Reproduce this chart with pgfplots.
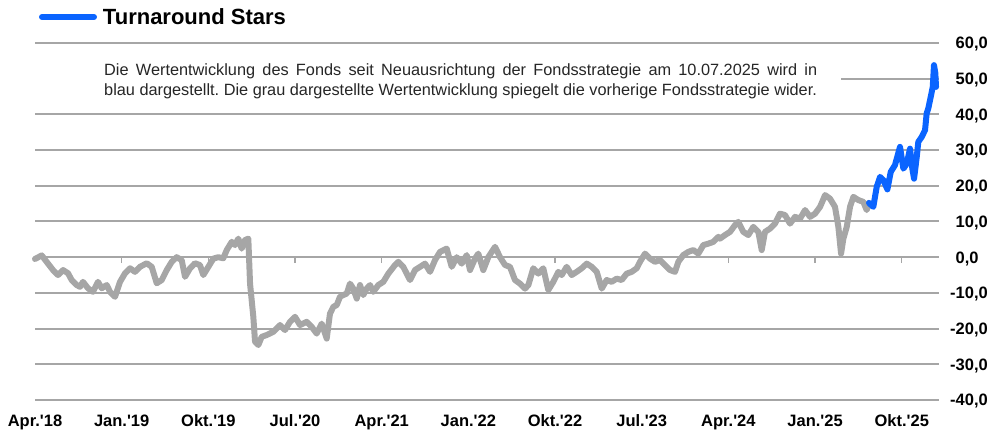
\documentclass[border=0pt]{standalone}
\usepackage{fontspec}
\setmainfont{Liberation Sans}
\usepackage{pgfplots}
\usepackage{pgfplotstable}
\pgfplotsset{compat=1.18}
\definecolor{lgrey}{RGB}{166,166,166}
\definecolor{fblue}{RGB}{10,100,255}
\definecolor{txt}{RGB}{38,38,38}
\frenchspacing

% months since Apr. 2018, performance in %
\pgfplotstableread{
m v
0.00 -0.5
0.70 0.5
1.21 -1.3
1.87 -3.6
2.39 -5.0
2.91 -3.6
3.43 -4.5
3.81 -6.4
4.33 -7.8
4.67 -8.3
4.98 -6.9
5.50 -8.7
6.02 -9.7
6.54 -6.9
6.93 -8.7
7.45 -7.8
7.79 -9.7
8.31 -11.1
8.83 -6.9
9.35 -4.5
9.87 -3.1
10.38 -4.1
10.90 -2.7
11.60 -1.7
12.12 -2.7
12.64 -7.3
13.16 -6.4
13.68 -3.6
14.20 -1.3
14.71 0.0
15.23 -0.8
15.58 -5.5
16.10 -3.1
16.61 -1.7
17.13 -2.2
17.48 -5.0
18.00 -2.7
18.52 -0.4
19.03 0.0
19.55 -0.3
19.91 2.0
20.43 4.3
20.77 3.4
21.11 5.2
21.46 2.4
21.81 4.8
22.15 5.2
22.33 -7.4
22.67 -16.7
22.85 -23.7
23.19 -24.6
23.54 -22.3
24.06 -21.8
24.75 -20.9
25.44 -19.0
25.96 -20.4
26.48 -18.1
27.00 -16.7
27.52 -19.0
28.21 -18.1
28.73 -19.5
29.25 -21.4
29.77 -18.6
30.29 -22.8
30.63 -15.8
30.98 -13.9
31.33 -13.4
31.67 -11.1
32.01 -10.6
32.37 -10.2
32.71 -7.4
33.05 -8.8
33.41 -11.6
33.75 -7.8
34.09 -10.6
34.44 -8.8
34.79 -7.8
35.13 -9.7
35.65 -7.8
36.17 -6.9
36.69 -4.6
37.38 -2.2
37.73 -1.3
38.24 -2.7
38.94 -6.4
39.46 -3.6
39.98 -2.7
40.50 -1.8
41.02 -4.1
41.54 -0.8
42.06 1.5
42.75 2.4
43.27 -2.7
43.79 0.0
44.31 -1.8
44.83 0.6
45.17 -3.6
45.69 -0.4
46.03 1.0
46.55 -3.6
47.07 0.0
47.77 2.9
48.29 0.0
48.81 -2.2
49.32 -2.7
49.84 -6.4
50.36 -7.4
50.88 -8.8
51.23 -7.8
51.74 -3.1
52.26 -4.6
52.78 -3.1
53.30 -9.2
53.82 -6.9
54.34 -4.1
54.69 -5.0
55.21 -2.7
55.73 -5.0
56.25 -4.1
56.77 -3.1
57.29 -1.8
57.81 -2.7
58.33 -4.1
58.85 -8.8
59.36 -6.4
59.88 -6.9
60.40 -6.0
60.92 -6.4
61.44 -4.6
61.96 -4.1
62.48 -3.1
62.82 -1.3
63.34 1.0
63.86 -0.4
64.38 -1.3
64.90 -0.8
65.42 -2.2
65.94 -3.6
66.46 -4.1
66.80 -1.3
67.32 0.6
67.84 1.5
68.36 2.0
68.88 1.0
69.40 3.4
69.92 3.8
70.44 4.3
70.96 5.7
71.13 5.2
71.65 6.2
72.17 7.1
72.69 9.0
73.03 9.9
73.55 7.1
74.07 6.2
74.59 8.5
75.11 7.1
75.46 2.0
75.80 7.1
76.32 8.0
76.84 9.4
77.36 12.2
77.88 11.8
78.40 9.4
78.92 11.3
79.44 10.8
79.96 13.2
80.48 11.3
81.00 12.2
81.52 14.1
82.04 17.4
82.55 16.4
83.07 14.1
83.42 8.5
83.70 1.0
83.94 5.2
84.29 8.5
84.63 14.1
84.98 16.9
85.50 16.0
86.01 15.5
86.36 13.2
86.60 15.2
}\greydata

\pgfplotstableread{
m v
86.60 15.2
87.05 14.1
87.40 19.7
87.75 22.5
88.09 21.6
88.51 19.0
88.86 23.9
89.30 25.8
89.82 30.9
90.17 24.8
90.52 26.2
90.86 30.4
91.10 24.8
91.28 22.0
91.56 28.1
91.72 32.3
92.08 33.7
92.42 35.6
92.59 40.3
92.76 41.7
93.01 44.9
93.22 47.7
93.35 53.8
93.49 51.5
93.56 47.7
}\bluedata

\begin{document}
\begin{tikzpicture}
% tick marks hanging below the zero line
\begin{axis}[
  scale only axis, width=904bp, height=357bp,
  xmin=0, xmax=93.87, ymin=-40, ymax=60,
  axis x line=middle, hide y axis,
  axis line style={lgrey, line width=2bp, -},
  xtick={0,9,...,90}, xticklabels={},
  tick align=outside, major tick length=6bp,
  tick style={lgrey, line width=1.5bp},
]
\end{axis}
\begin{axis}[
  scale only axis, width=904bp, height=357bp,
  xmin=0, xmax=93.87, ymin=-40, ymax=60,
  clip=false,
  axis line style={draw=none},
  major tick length=0pt,
  ymajorgrids,
  grid style={lgrey, line width=2bp},
  ytick={-40,-30,...,60},
  yticklabels={{\llap{-}40,0},{\llap{-}30,0},{\llap{-}20,0},{\llap{-}10,0},{0,0},{10,0},{20,0},{30,0},{40,0},{50,0},{60,0}},
  yticklabel pos=right,
  xtick={0,9,...,90},
  xticklabels={Apr.\textquotesingle18,Jan.\textquotesingle19,Okt.\textquotesingle19,Jul.\textquotesingle20,Apr.\textquotesingle21,Jan.\textquotesingle22,Okt.\textquotesingle22,Jul.\textquotesingle23,Apr.\textquotesingle24,Jan.\textquotesingle25,Okt.\textquotesingle25},
  tick label style={font=\fontsize{16.5bp}{19bp}\selectfont\bfseries, text=black, inner sep=0pt},
  yticklabel style={anchor=base west, xshift=16.5bp, yshift=-5.9bp},
  xticklabel style={anchor=base, yshift=-27bp},
  legend style={at={(rel axis cs:0,1)}, anchor=west, xshift=4bp, yshift=26bp,
    draw=none, fill=none, inner sep=0pt, outer sep=0pt,
    nodes={inner sep=0pt},
    font=\fontsize{22bp}{26bp}\selectfont\bfseries,
    /tikz/every odd column/.append style={column sep=6bp}},
  legend image code/.code={\draw[#1, line width=6bp, line cap=round] (3bp,0bp) -- (55bp,0bp);},
]
\addplot[lgrey, line width=6bp, line join=round, line cap=round, forget plot] table[x=m, y=v] {\greydata};
\addplot[fblue, line width=6bp, line join=round, line cap=round] table[x=m, y=v] {\bluedata};
\addlegendentry{Turnaround Stars}
\fill[white] (axis cs:-1.6,56.4) rectangle (axis cs:83.70,42.3);
\node[anchor=base west, inner sep=0pt, text=txt, font=\fontsize{16.3bp}{19bp}\selectfont] at (axis cs:7.165,50.76)
  {\makebox[713bp][s]{Die Wertentwicklung des Fonds seit Neuausrichtung der Fondsstrategie am 10.07.2025 wird in}};
\node[anchor=base west, inner sep=0pt, text=txt, font=\fontsize{16.3bp}{19bp}\selectfont] at (axis cs:7.165,45.43)
  {blau dargestellt. Die grau dargestellte Wertentwicklung spiegelt die vorherige Fondsstrategie wider.};
\coordinate (tl) at (rel axis cs:0,1);
\end{axis}
\pgfresetboundingbox
\path[use as bounding box] ([xshift=-35bp,yshift=43bp]tl) rectangle ([xshift=960bp,yshift=-394bp]tl);
\end{tikzpicture}
\end{document}
